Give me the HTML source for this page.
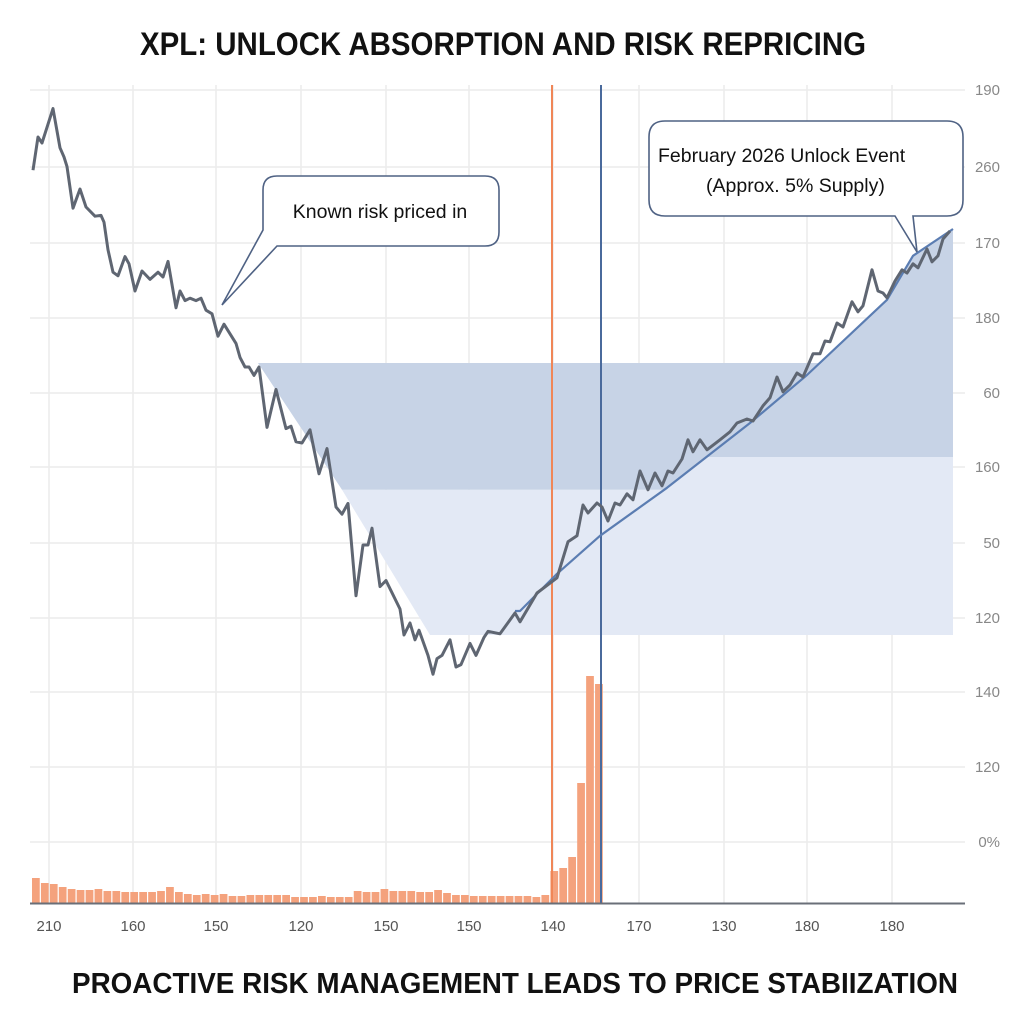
<!DOCTYPE html>
<html><head><meta charset="utf-8"><title>XPL: Unlock Absorption and Risk Repricing</title>
<style>html,body{margin:0;padding:0;background:#fff;}svg{display:block;}</style></head>
<body>
<svg id="chart" width="1024" height="1024" viewBox="0 0 1024 1024" xmlns="http://www.w3.org/2000/svg" font-family="Liberation Sans, sans-serif">
<rect width="1024" height="1024" fill="#fff"/>
<text x="140" y="55" font-size="32" font-weight="bold" fill="#111" textLength="726" lengthAdjust="spacingAndGlyphs">XPL: UNLOCK ABSORPTION AND RISK REPRICING</text>
<g id="grid"></g>
<g id="bands"></g>
<g id="bars"></g>
<g id="lines"></g>
<g id="axes"></g>
<g>
<path d="M277,176 H485 Q499,176 499,190 V232 Q499,246 485,246 H277 L222,305 L263,230 V190 Q263,176 277,176 Z" fill="#fff" stroke="#4f6284" stroke-width="1.6"/>
<text x="380" y="218" font-size="19.5" fill="#111" text-anchor="middle">Known risk priced in</text>
</g>
<g>
<path d="M665,121 H947 Q963,121 963,137 V200 Q963,216 947,216 H913 L917,252 L895,216 H665 Q649,216 649,200 V137 Q649,121 665,121 Z" fill="#fff" stroke="#4f6284" stroke-width="1.6"/>
<text x="658" y="162" font-size="19.5" fill="#111">February 2026 Unlock Event</text>
<text x="706" y="192" font-size="19.5" fill="#111">(Approx. 5% Supply)</text>
</g>
<text x="72" y="993" font-size="29" font-weight="bold" fill="#111" textLength="886" lengthAdjust="spacingAndGlyphs">PROACTIVE RISK MANAGEMENT LEADS TO PRICE STABIIZATION</text>
</svg>
<script>
// ---- data ----
const priceDays = [0,5,9,20,27,31,34,40,47,53,62,68,71,75,80,85,92,96,102,109,117,125,130,135,143,147,152,157,163,168,173,179,185,191,197,203,207,212,216,221,226,234,243,253,258,263,269,277,286,294,303,309,315,323,330,335,339,347,353,367,371,377,382,386,395,400,404,409,417,423,428,437,443,451,455,467,482,487,504,524,535,544,550,555,564,569,575,582,587,594,600,607,615,622,629,635,640,649,655,660,667,674,687,697,704,714,720,730,737,744,750,757,764,770,780,787,792,797,804,810,819,825,830,839,845,850,854,862,869,874,880,885,894,899,905,910,917];
const priceValues = [183.2,191.5,190.0,198.6,188.8,186.5,184.1,173.7,178.5,174.0,171.7,171.9,170.2,163.3,157.7,156.8,161.6,159.8,153.0,158.0,155.9,157.7,156.5,160.4,148.8,153.0,150.6,151.2,150.6,151.2,148.2,147.3,141.7,144.7,142.3,139.9,136.4,134.0,134.0,131.9,134.0,118.9,128.4,118.6,119.2,115.3,115.0,118.3,107.3,113.6,99.0,97.2,99.9,76.8,89.5,89.5,93.7,79.1,80.6,73.5,67.0,70.0,65.8,68.2,61.9,57.2,61.1,61.9,65.8,59.0,59.6,64.9,61.9,66.4,67.9,67.3,72.5,70.3,77.5,81.3,90.3,91.8,99.5,97.5,100.0,99.0,95.5,100.0,99.5,102.3,100.8,108.0,103.3,107.5,104.3,108.0,107.5,111.0,115.8,112.8,115.8,113.3,115.8,117.8,120.0,121.0,120.5,124.3,126.3,131.5,127.8,129.5,132.5,131.5,137.3,137.3,140.5,140.3,145.0,144.0,150.3,147.8,149.3,158.3,153.0,152.5,151.3,155.5,158.3,157.5,159.8,158.8,163.5,160.3,161.8,166.0,168.0];
const trendDays = [482,487,524,567,634,717,774,854,880,920];
const trendValues = [73.0,73.0,82.3,91.8,103.8,120.0,132.0,150.8,161.8,168.5];
const volumeValues = [25,20,19,16,14,13,13,14,12,12,11,11,11,11,12,16,11,9,8,9,8,9,7,7,8,8,8,8,8,6,6,6,7,6,6,6,12,11,11,14,12,12,12,11,11,13,10,8,8,7,7,7,7,7,7,7,6,8,32,35,46,120,227,219];
const xTickLabels = ["210","160","150","120","150","150","140","170","130","180","180"];
const rightTickLabels = ["190","260","170","180","60","160","50","120","140","120","0%"];
const bandLevels = [135, 111.5, 103.3, 67];   // dark top, dark bottom (right), dark bottom (left), light bottom
const bandEdgeDays = [225, 309, 397];
const bandEndDay = 920;
const orangeEventDay = 519, blueEventDay = 568;

// ---- scales ----
const X0 = 33, Y0 = 903;
const xS = d => X0 + d;
const yS = v => Y0 - v * 4;
const yVol = v => Y0 - v;
const NS = 'http://www.w3.org/2000/svg';
function mk(tag, parent, attrs){const e=document.createElementNS(NS,tag);for(const k in attrs)e.setAttribute(k,attrs[k]);parent.appendChild(e);return e;}

// grid
const grid = document.getElementById('grid');
const gridXs = [49,133,216,301,386,469,553,639,724,807,892];
const gridYs = [90,167,243,318,393,467,543,618,692,767,842];
gridYs.forEach((y,i)=>{
  const l = mk('line', grid, {x1:30,x2:965,y1:y,y2:y,stroke:'#ececec','stroke-width':1.5});
  
  
});
gridXs.forEach((x,i)=>{
  const l = mk('line', grid, {x1:x,x2:x,y1:85,y2:903,stroke:'#ececec','stroke-width':1.5});
  
  
});

// bands
const bands = document.getElementById('bands');
function trendAt(v){
  for(let i=1;i<trendDays.length;i++){
    if(trendValues[i]>=v){const t=(v-trendValues[i-1])/(trendValues[i]-trendValues[i-1]);return trendDays[i-1]+t*(trendDays[i]-trendDays[i-1]);}
  }
  return trendDays[trendDays.length-1];
}
function trendBetween(lo, hi){ // points of trend strictly between values, ascending
  const out=[];
  trendDays.forEach((d,i)=>{ if(trendValues[i]>lo && trendValues[i]<hi) out.push([xS(d), yS(trendValues[i])]); });
  return out;
}
const eTop = [xS(bandEdgeDays[0]), yS(bandLevels[0])];
const eMid = [xS(bandEdgeDays[1]), yS(bandLevels[2])];
const eBot = [xS(bandEdgeDays[2]), yS(bandLevels[3])];
const stepPath = [[xS(trendAt(bandLevels[1])), yS(bandLevels[1])]].concat(trendBetween(bandLevels[2], bandLevels[1]).reverse(), [[xS(trendAt(bandLevels[2])), yS(bandLevels[2])]]);
let dPts = [eTop,[xS(trendAt(bandLevels[0])), yS(bandLevels[0])]];
trendDays.forEach((d,i)=>{ if(trendValues[i]>bandLevels[0]) dPts.push([xS(d), yS(trendValues[i])]); });
dPts.push([xS(bandEndDay), yS(bandLevels[1])]);
dPts = dPts.concat(stepPath, [eMid]);
const lightPts = [eMid].concat(stepPath.slice().reverse(), [[xS(bandEndDay), yS(bandLevels[1])],[xS(bandEndDay), yS(bandLevels[3])],eBot]);
const lp = mk('polygon', bands, {points: lightPts.map(p=>p.join(',')).join(' '), fill:'#e3e9f5'});


const dp = mk('polygon', bands, {points: dPts.map(p=>p.join(',')).join(' '), fill:'#c7d3e6'});



// volume bars
const barsG = document.getElementById('bars');
const step = (604-32)/volumeValues.length;
volumeValues.forEach((v,i)=>{
  const r = mk('rect', barsG, {x:32+i*step, y:yVol(v), width:step-1.2, height:v, fill:'#f4a27d'});
  
  
});

// lines
const lines = document.getElementById('lines');
const ov = mk('line', lines, {x1:xS(orangeEventDay),x2:xS(orangeEventDay),y1:85,y2:903,stroke:'#f08657','stroke-width':2});


const bv = mk('line', lines, {x1:xS(blueEventDay),x2:xS(blueEventDay),y1:85,y2:903,stroke:'#4a6a9c','stroke-width':2});


const tr = mk('polyline', lines, {points: trendDays.map((d,i)=>xS(d)+','+yS(trendValues[i])).join(' '), fill:'none', stroke:'#5b7db2','stroke-width':2.2,'stroke-linejoin':'round'});


const pl = mk('polyline', lines, {points: priceDays.map((d,i)=>xS(d)+','+yS(priceValues[i])).join(' '), fill:'none', stroke:'#5f6672','stroke-width':3,'stroke-linejoin':'round'});



// axes
const axes = document.getElementById('axes');
const ax = mk('line', axes, {x1:30,x2:965,y1:903.5,y2:903.5,stroke:'#6a6f78','stroke-width':2});


xTickLabels.forEach((t,i)=>{
  const e = mk('text', axes, {x:gridXs[i], y:931, 'font-size':15, fill:'#555', 'text-anchor':'middle'});
  e.textContent = t;
  
  
});
rightTickLabels.forEach((t,i)=>{
  const e = mk('text', axes, {x:1000, y:gridYs[i]+5, 'font-size':15, fill:'#888', 'text-anchor':'end'});
  e.textContent = t;
  
  
});
</script>
</body></html>
